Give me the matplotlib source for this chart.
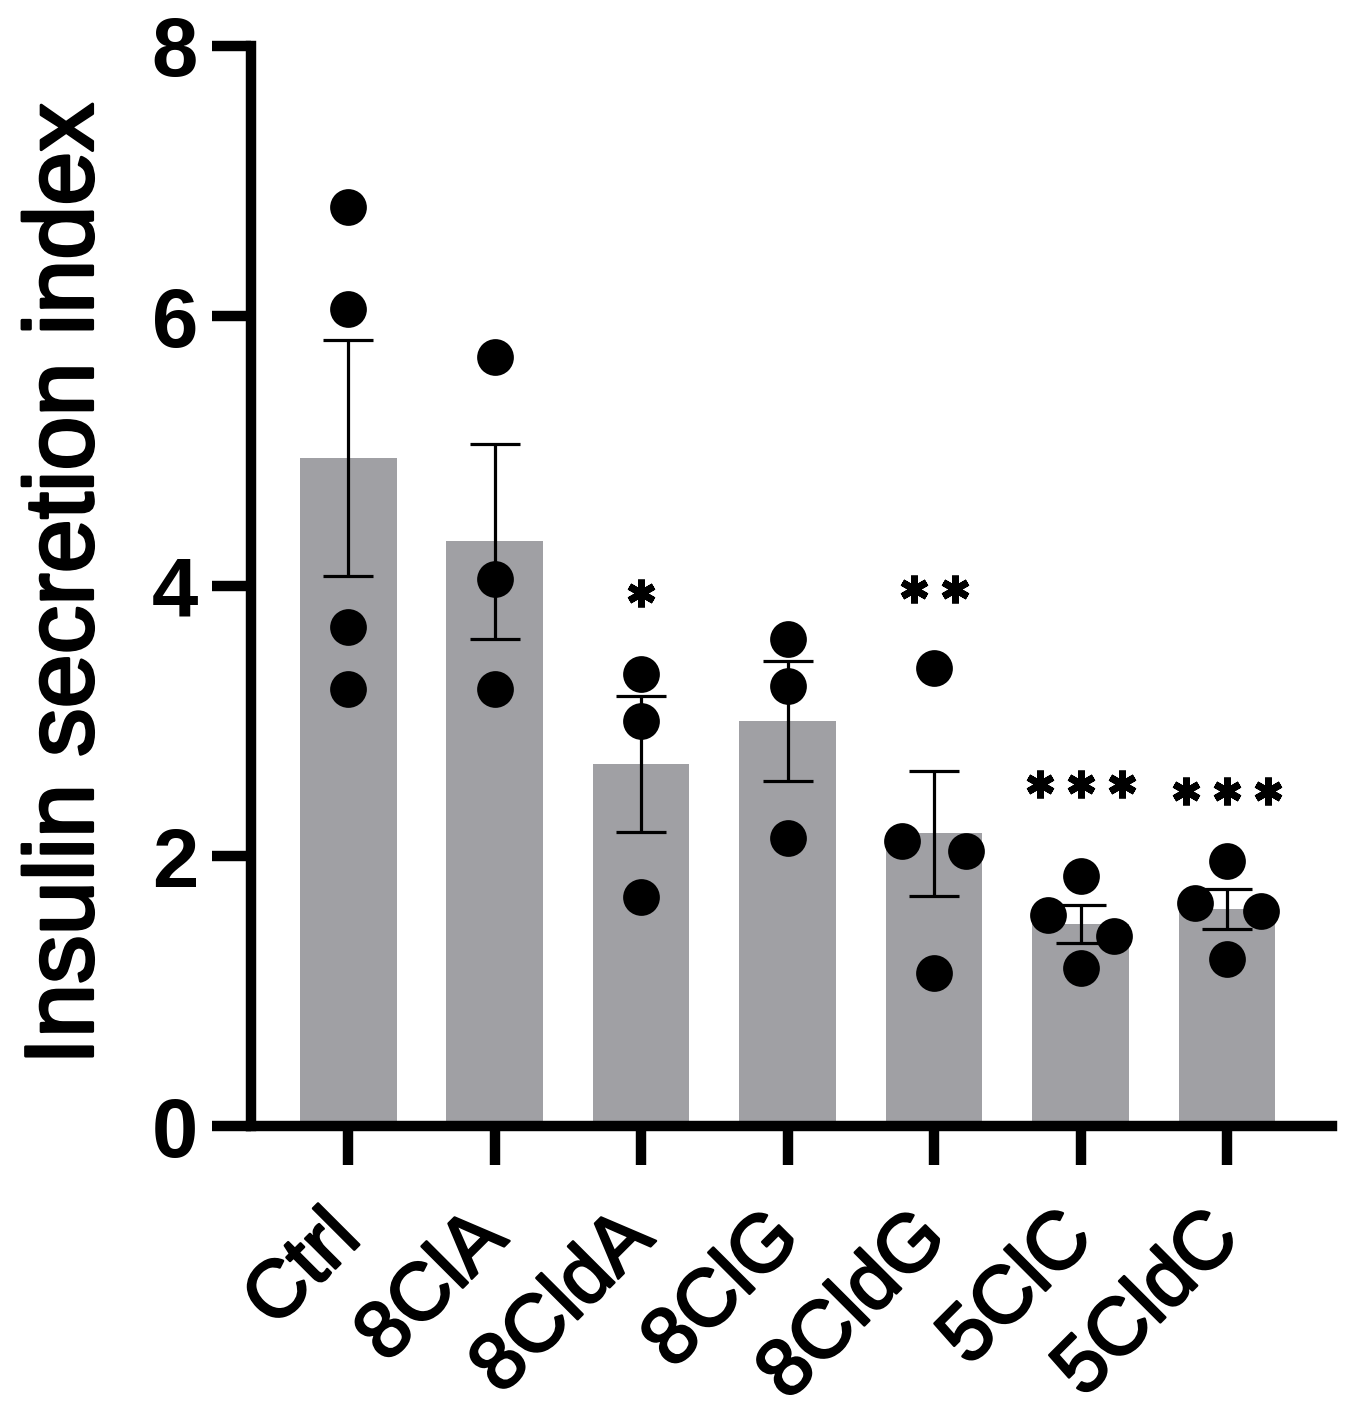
import numpy as np
import matplotlib
matplotlib.use("Agg")
import matplotlib.pyplot as plt
import matplotlib.patheffects as pe

plt.rcParams['font.family'] = ['Liberation Sans', 'DejaVu Sans']

categories = ["Ctrl", "8ClA", "8CldA", "8ClG", "8CldG", "5ClC", "5CldC"]
points = [
    [6.81, 6.05, 3.70, 3.24],
    [5.70, 4.05, 3.24],
    [3.35, 3.00, 1.70],
    [3.61, 3.26, 2.13],
    [3.39, 2.11, 2.04, 1.13],
    [1.85, 1.56, 1.41, 1.17],
    [1.96, 1.65, 1.59, 1.24],
]
jitter = [
    [0, 0, 0, 0],
    [0, 0, 0],
    [0, 0, 0],
    [0, 0, 0],
    [0, -0.22, 0.22, 0],
    [0, -0.22, 0.23, 0],
    [0, -0.22, 0.23, 0],
]
stars = ["", "", "*", "", "**", "***", "***"]
star_y = [0, 0, 3.95, 0, 3.98, 2.53, 2.48]
yticks = [0, 2, 4, 6, 8]

means = [np.mean(p) for p in points]
sems = [np.std(p, ddof=1) / np.sqrt(len(p)) for p in points]
x = np.arange(len(categories))

fig = plt.figure(figsize=(13.53, 14.15), dpi=100)
ax = fig.add_axes([0.1855, 0.2042, 0.7993, 0.7633])

ax.bar(x, means, width=0.66, color='#a0a0a4', zorder=1)
ax.errorbar(x, means, yerr=sems, fmt='none', ecolor='black', elinewidth=2.3,
            capsize=18, capthick=2.3, zorder=2)
for i, (p, j) in enumerate(zip(points, jitter)):
    ax.scatter(x[i] + np.array(j), p, s=700, color='black', zorder=3, linewidths=0)
for i, s in enumerate(stars):
    n = len(s)
    for k in range(n):
        ax.plot(x[i] + (k - (n - 1) / 2) * 0.28, star_y[i], marker=(6, 2, 0),
                markersize=20, markeredgewidth=5, color='black', zorder=4)

ax.set_xlim(-0.664, 6.72)
ax.set_ylim(0, 8)
ax.set_yticks(yticks)
ax.set_yticklabels([str(v) for v in yticks], fontsize=60, fontweight='bold')
ax.set_xticks(x)
ax.set_xticklabels(categories, fontsize=58, rotation=45,
                   ha='right', va='center', rotation_mode='anchor')
for t in ax.get_xticklabels():
    t.set_path_effects([pe.withStroke(linewidth=1.8, foreground='black')])
for sp in ['top', 'right']:
    ax.spines[sp].set_visible(False)
for sp in ['left', 'bottom']:
    ax.spines[sp].set_linewidth(7.5)
ax.tick_params(axis='both', width=7.5, length=28, direction='out')
ax.tick_params(axis='y', pad=10)
ax.tick_params(axis='x', pad=44)
yl = ax.set_ylabel("Insulin secretion index", fontsize=70)
yl.set_path_effects([pe.withStroke(linewidth=2.2, foreground='black')])
ax.yaxis.set_label_coords(-0.128, 0.502)

fig.savefig("out.png", dpi=100)
